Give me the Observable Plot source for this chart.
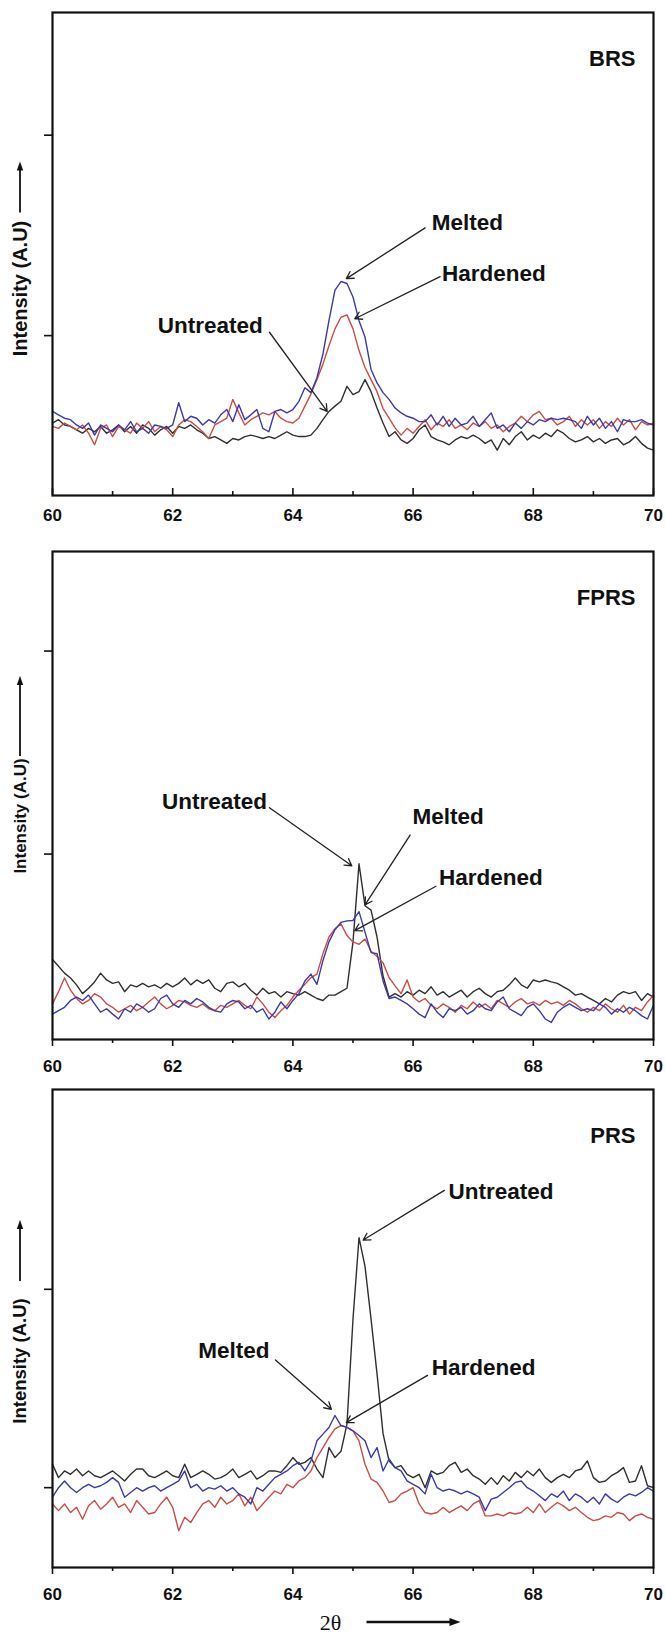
<!DOCTYPE html>
<html>
<head>
<meta charset="utf-8">
<script src="https://cdn.jsdelivr.net/npm/d3@7"></script>
<script src="https://cdn.jsdelivr.net/npm/@observablehq/plot@0.6"></script>
<style>
  body { margin: 0; background: #fff; }
  #chart { width: 665px; }
  #chart svg { display: block; }
</style>
</head>
<body>
<div id="chart"></div>
<script>
// ---------- data (2θ in degrees, intensity in arbitrary units, 0–100 of each panel) ----------
const theta = [60.0,60.1,60.2,60.3,60.4,60.5,60.6,60.7,60.8,60.9,
  61.0,61.1,61.2,61.3,61.4,61.5,61.6,61.7,61.8,61.9,
  62.0,62.1,62.2,62.3,62.4,62.5,62.6,62.7,62.8,62.9,
  63.0,63.1,63.2,63.3,63.4,63.5,63.6,63.7,63.8,63.9,
  64.0,64.1,64.2,64.3,64.4,64.5,64.6,64.7,64.8,64.9,
  65.0,65.1,65.2,65.3,65.4,65.5,65.6,65.7,65.8,65.9,
  66.0,66.1,66.2,66.3,66.4,66.5,66.6,66.7,66.8,66.9,
  67.0,67.1,67.2,67.3,67.4,67.5,67.6,67.7,67.8,67.9,
  68.0,68.1,68.2,68.3,68.4,68.5,68.6,68.7,68.8,68.9,
  69.0,69.1,69.2,69.3,69.4,69.5,69.6,69.7,69.8,69.9,
  70.0];

// BRS
const brsUntreated = [15.0,15.7,14.6,14.3,13.6,12.9,13.9,13.2,14.3,12.9,
  13.6,14.6,13.2,14.3,12.9,14.6,13.9,12.5,13.6,14.3,
  12.9,14.3,13.9,14.6,13.6,12.9,11.8,12.2,11.5,10.8,
  11.8,11.5,12.2,12.5,12.2,11.8,12.2,11.8,12.5,13.2,
  12.5,12.2,12.2,12.5,13.9,15.7,17.4,18.5,19.5,22.6,
  20.9,21.5,24.0,21.5,18.1,15.0,12.2,13.2,11.5,10.8,
  11.8,13.6,14.6,12.2,11.5,11.1,10.5,11.5,12.2,11.8,
  12.5,11.8,10.8,11.5,9.4,11.8,10.5,12.2,13.2,11.5,
  12.5,11.8,12.9,12.2,13.6,12.9,11.8,11.1,11.5,12.2,
  11.1,11.8,10.8,11.5,11.8,10.5,11.1,12.2,10.8,9.8,
  9.4];
const brsHardened = [14.3,13.9,15.0,14.3,13.6,14.6,12.9,10.5,13.9,14.6,
  12.2,14.3,13.6,12.9,15.0,13.9,15.3,13.2,14.3,13.6,
  12.2,14.6,15.7,15.3,14.3,13.2,11.8,14.6,15.3,16.0,
  19.9,17.1,14.6,15.7,16.4,17.1,16.7,17.4,16.0,15.3,
  15.0,16.0,18.5,21.0,24.0,27.2,31.0,34.5,36.9,37.4,
  34.5,30.0,26.5,24.0,21.5,18.0,16.0,14.0,12.5,13.9,
  12.9,14.3,15.7,13.6,15.0,14.3,15.7,13.9,14.6,13.6,
  15.0,14.3,15.3,13.9,14.6,13.2,14.3,15.0,16.4,15.3,
  16.7,17.4,15.7,16.0,14.6,15.3,16.4,14.3,15.7,14.6,
  15.7,13.9,15.3,14.3,16.0,14.6,15.7,13.6,15.3,14.6,
  15.0];
const brsMelted = [17.4,16.7,16.0,15.7,14.6,13.9,15.0,12.5,14.6,13.9,
  13.2,14.6,13.6,15.3,13.2,13.9,12.9,14.6,14.3,13.9,
  14.6,19.2,15.3,16.4,16.0,14.6,15.7,15.0,16.7,17.8,
  15.3,18.8,15.7,16.7,17.8,13.9,13.2,17.4,17.8,17.1,
  17.8,19.5,22.3,21.3,24.4,29.3,36.2,42.5,44.3,43.9,
  41.1,36.2,32.8,26.1,23.3,21.3,19.9,18.1,17.1,16.4,
  16.0,15.3,15.3,16.7,14.6,16.4,14.3,16.0,14.6,15.0,
  16.4,14.3,15.7,17.1,13.9,14.6,13.2,15.0,13.9,15.3,
  14.6,15.7,15.3,16.0,15.7,16.0,15.7,15.3,13.9,16.4,
  14.6,16.0,13.9,15.3,13.2,15.7,15.3,15.3,15.7,15.0,
  14.6];

// FPRS
const fprsUntreated = [16.4,15.0,13.6,12.6,11.2,9.4,10.5,11.8,13.6,12.2,
  11.5,11.8,9.8,11.2,10.8,11.5,10.8,11.2,10.5,11.5,
  10.8,11.5,12.6,11.2,12.2,11.5,12.2,10.5,9.8,11.5,
  11.8,10.8,11.5,10.1,9.1,10.5,9.4,9.8,8.7,9.8,
  9.4,9.1,9.8,9.1,8.4,8.0,9.1,9.1,9.8,10.5,
  20.0,36.0,27.4,26.5,21.0,13.0,8.7,9.4,8.7,9.8,
  9.1,10.1,9.4,10.8,9.1,9.8,8.7,9.4,10.1,8.7,
  9.8,10.5,9.4,8.7,9.8,10.1,11.2,12.6,11.2,10.5,
  12.2,11.8,12.2,11.8,11.5,10.8,10.1,9.1,9.4,8.7,
  8.0,7.3,8.4,7.7,9.1,9.8,9.4,9.8,8.0,9.4,
  8.7];
const fprsHardened = [7.3,9.8,12.6,10.1,8.4,7.3,8.0,9.4,8.7,7.3,
  6.6,5.6,6.3,7.0,5.9,6.6,7.7,8.7,7.3,6.3,
  7.0,8.0,7.7,7.0,6.6,7.3,6.3,5.9,7.0,6.6,
  7.3,8.0,7.0,6.3,8.7,7.3,5.6,4.5,5.9,7.0,
  8.7,10.1,11.3,12.7,13.4,17.6,21.0,22.7,23.7,21.3,
  20.0,19.5,20.6,18.1,17.0,15.7,12.7,11.0,9.4,12.2,
  8.7,7.7,8.4,7.0,6.3,7.3,6.6,5.6,7.0,6.3,
  7.7,6.6,7.3,6.3,8.0,7.3,6.6,7.7,8.4,7.3,
  7.7,7.0,8.0,7.3,7.7,7.0,8.0,7.3,6.3,5.6,
  6.6,5.9,7.3,6.3,5.6,7.0,5.2,6.6,5.9,7.7,
  9.1];
const fprsMelted = [5.2,5.9,6.6,8.0,8.7,8.0,9.1,7.3,5.6,6.3,
  5.2,4.2,6.3,5.6,7.3,6.6,5.6,6.3,8.4,9.1,
  7.3,6.6,8.0,7.3,8.4,7.7,6.6,5.9,5.6,7.3,
  8.0,7.7,6.3,7.0,5.6,6.3,4.2,5.6,7.7,6.3,
  8.0,9.4,12.0,13.4,11.3,16.2,20.0,22.5,24.0,24.3,
  24.4,26.2,22.0,17.8,17.6,12.0,8.4,8.7,8.0,7.3,
  6.3,5.2,4.5,7.3,5.6,4.5,6.3,5.9,6.6,5.2,
  5.9,7.3,6.3,5.9,7.7,8.7,6.3,5.6,4.9,6.6,
  7.3,5.9,4.2,3.5,5.6,6.6,7.3,6.6,5.9,6.3,
  5.9,7.3,6.6,5.2,6.3,5.6,6.6,5.9,4.9,4.2,
  7.0];

// PRS
const prsUntreated = [21.6,18.8,20.2,19.5,20.6,19.2,20.2,19.2,18.8,19.5,
  20.2,19.2,18.1,19.5,20.6,20.6,19.2,18.8,19.5,20.2,
  19.2,18.8,21.6,18.8,19.5,20.2,19.5,18.5,18.8,19.5,
  20.6,18.8,19.5,20.2,18.5,19.2,20.2,20.2,19.9,21.3,
  23.0,21.6,22.0,23.0,20.6,18.8,25.1,23.0,24.3,30.0,
  52.0,69.0,63.0,52.0,40.5,28.0,22.3,20.9,21.3,19.5,
  18.8,19.5,16.7,20.2,19.5,19.9,21.3,22.0,19.9,20.6,
  19.2,18.5,17.4,18.8,17.4,19.2,18.1,19.9,18.8,20.2,
  19.2,20.6,18.8,17.8,18.8,19.5,18.8,20.2,20.6,22.3,
  18.8,17.8,18.1,19.2,19.9,20.9,17.8,18.1,21.3,17.1,
  16.7];
const prsHardened = [13.3,11.9,13.3,11.5,12.6,10.1,12.9,14.0,12.2,13.3,
  14.7,12.6,13.3,11.5,14.0,12.6,11.2,11.5,13.3,14.7,
  12.6,7.7,10.5,9.4,11.5,13.3,14.0,12.6,14.7,13.3,
  14.0,15.4,12.9,14.7,11.9,13.3,14.7,16.0,15.4,17.4,
  16.7,18.1,18.8,20.2,23.0,25.1,27.2,29.0,29.7,29.3,
  28.6,26.5,21.6,18.5,17.8,16.0,13.6,14.0,15.4,16.0,
  16.7,13.3,11.5,11.2,11.5,12.6,11.5,12.2,12.9,11.9,
  13.3,14.0,10.8,10.8,11.2,10.8,11.5,11.2,11.5,12.6,
  11.5,13.3,11.5,12.6,13.6,12.9,11.9,12.6,11.5,10.5,
  9.8,10.1,10.8,10.5,11.5,11.2,9.8,10.8,11.2,10.5,
  10.1];
const prsMelted = [14.7,16.7,18.1,16.7,15.7,16.7,17.4,16.7,17.1,17.8,
  18.8,17.8,14.7,15.7,16.7,16.0,16.7,17.1,16.0,16.7,
  17.4,18.1,20.2,16.7,17.4,16.0,16.7,16.4,17.1,16.0,
  16.7,15.4,14.7,13.3,16.7,16.0,17.4,18.8,19.5,20.2,
  21.3,22.0,20.2,22.3,26.5,27.9,29.3,31.8,29.7,29.3,
  28.6,27.6,26.5,23.0,25.1,20.2,22.7,20.9,20.2,18.1,
  17.4,16.7,15.4,19.5,16.7,16.0,16.4,16.0,15.4,16.0,
  15.4,14.7,11.9,14.3,14.7,15.7,16.7,17.8,18.1,16.7,
  16.0,15.0,14.0,15.4,14.7,16.0,14.0,15.4,14.7,13.6,
  14.7,13.3,15.4,14.3,13.6,14.7,15.4,15.0,15.7,16.7,
  16.0];

// axis ticks
const xMajorTicks = [60, 62, 64, 66, 68, 70];
const xMinorTicks = [61, 63, 65, 67, 69];
const brsYTicks = [33.1, 74.6];
const fprsYTicks = [38.0, 79.6];
const prsYTicks = [16.7, 58.2];

// texts
const panelNames = ["BRS", "FPRS", "PRS"];
const yTitle = "Intensity (A.U)";
const xTitle = "2θ";

// annotation labels (data coordinates) and their pointer arrows
const brsNotes = [
  {label: "Melted",    x: 66.31, y: 56.4, anchor: "start", ax1: 66.20, ay1: 55.4, ax2: 64.89, ay2: 44.9},
  {label: "Hardened",  x: 66.48, y: 46.0, anchor: "start", ax1: 66.45, ay1: 45.3, ax2: 65.03, ay2: 36.6},
  {label: "Untreated", x: 63.50, y: 35.2, anchor: "end",   ax1: 63.61, ay1: 33.8, ax2: 64.57, ay2: 17.4}
];
const fprsNotes = [
  {label: "Untreated", x: 63.57, y: 48.8, anchor: "end",   ax1: 63.61, ay1: 47.5, ax2: 64.98, ay2: 35.6},
  {label: "Melted",    x: 65.99, y: 45.7, anchor: "start", ax1: 65.95, ay1: 41.9, ax2: 65.20, ay2: 27.6},
  {label: "Hardened",  x: 66.43, y: 33.1, anchor: "start", ax1: 66.38, ay1: 31.4, ax2: 65.03, ay2: 22.3}
];
const prsNotes = [
  {label: "Untreated", x: 66.59, y: 78.5, anchor: "start", ax1: 66.52, ay1: 78.9, ax2: 65.17, ay2: 68.5},
  {label: "Melted",    x: 63.61, y: 45.4, anchor: "end",   ax1: 63.71, ay1: 43.4, ax2: 64.64, ay2: 33.1},
  {label: "Hardened",  x: 66.31, y: 41.8, anchor: "start", ax1: 66.24, ay1: 40.2, ax2: 64.89, ay2: 30.3}
];

// ---------- drawing ----------
const FONT = "'Liberation Sans', Arial, Helvetica, sans-serif";
const SERIF = "'Liberation Serif', 'Times New Roman', serif";
const colors = {untreated: "#2f2f2f", hardened: "#cc4d45", melted: "#3a3aad"};

function yTitleMark(opt) {
  return (index, scales, values, dims) => {
    const cy = (dims.marginTop + dims.height - dims.marginBottom) / 2 + opt.shift;
    const cx = 20;
    const g = d3.create("svg:g");
    g.append("text")
      .attr("transform", `translate(${cx},${cy}) rotate(-90)`)
      .attr("text-anchor", "middle").attr("dy", "0.35em")
      .attr("font-family", FONT).attr("font-size", opt.size).attr("font-weight", "bold")
      .attr("fill", "#111").text(yTitle);
    const y1 = cy - opt.arrowFrom, y2 = cy - opt.arrowTo;
    g.append("line").attr("x1", cx).attr("x2", cx).attr("y1", y1).attr("y2", y2 + 7)
      .attr("stroke", "#111").attr("stroke-width", 1.8);
    g.append("path").attr("d", `M${cx},${y2} L${cx - 3.2},${y2 + 9} L${cx + 3.2},${y2 + 9}Z`).attr("fill", "#111");
    return g.node();
  };
}

function xTitleMark() {
  return (index, scales, values, dims) => {
    const mid = (dims.marginLeft + dims.width - dims.marginRight) / 2;
    const cx = mid - 22;
    const cy = dims.height - dims.marginBottom + 55;
    const g = d3.create("svg:g");
    g.append("text").attr("x", cx).attr("y", cy).attr("dy", "0.35em")
      .attr("text-anchor", "middle").attr("font-family", SERIF).attr("font-size", 22)
      .attr("fill", "#111").text(xTitle);
    const x1 = cx + 36, x2 = cx + 130;
    g.append("line").attr("x1", x1).attr("x2", x2 - 8).attr("y1", cy).attr("y2", cy)
      .attr("stroke", "#111").attr("stroke-width", 2.6);
    g.append("path").attr("d", `M${x2},${cy} L${x2 - 11},${cy - 4} L${x2 - 11},${cy + 4}Z`).attr("fill", "#111");
    return g.node();
  };
}

function panel(cfg) {
  const notesStart = cfg.notes.filter(d => d.anchor === "start");
  const notesEnd = cfg.notes.filter(d => d.anchor === "end");
  const frameH = cfg.height - cfg.mt - cfg.mb;
  const tickMarks = cfg.inwardTicks
    ? [
        Plot.axisX({ticks: xMajorTicks, tickSize: 0, tickPadding: 13, fontSize: 17, fontWeight: "bold",
                    fill: "#111", label: null, tickFormat: d => d}),
        Plot.tickX(xMajorTicks, {x: d => d, insetTop: frameH - 7, stroke: "#111", strokeWidth: 1.6}),
        Plot.tickX(xMinorTicks, {x: d => d, insetTop: frameH - 4, stroke: "#111", strokeWidth: 1.6})
      ]
    : [
        Plot.axisX({ticks: xMajorTicks, tickSize: 7, tickPadding: 13, fontSize: 17, fontWeight: "bold",
                    fill: "#111", strokeWidth: 1.6, label: null, tickFormat: d => d}),
        Plot.axisX({ticks: xMinorTicks, tickSize: 4, text: null, strokeWidth: 1.6, label: null})
      ];
  const marks = [
    ...tickMarks,
    Plot.axisY({ticks: cfg.yTicks, tickSize: 8, text: null, strokeWidth: 1.6, label: null}),
    Plot.lineY(cfg.untreated, {x: theta, stroke: colors.untreated, strokeWidth: 1.4}),
    Plot.lineY(cfg.hardened, {x: theta, stroke: colors.hardened, strokeWidth: 1.4}),
    Plot.lineY(cfg.melted, {x: theta, stroke: colors.melted, strokeWidth: 1.4}),
    Plot.frame({stroke: "#111", strokeWidth: 2.2}),
    Plot.arrow(cfg.notes, {x1: "ax1", y1: "ay1", x2: "ax2", y2: "ay2", stroke: "#222",
                           strokeWidth: 1.3, headLength: 9}),
    Plot.text(notesStart, {x: "x", y: "y", text: "label", textAnchor: "start", fontSize: 22.5,
                           fontWeight: "bold", fill: "#111"}),
    Plot.text(notesEnd, {x: "x", y: "y", text: "label", textAnchor: "end", fontSize: 22.5,
                         fontWeight: "bold", fill: "#111"}),
    Plot.text([cfg.name], {frameAnchor: "top-right", textAnchor: "end", dx: -18, dy: 38,
                           fontSize: 22, fontWeight: "bold", fill: "#111"}),
    yTitleMark(cfg.yTitle)
  ];
  if (cfg.xTitle) marks.push(xTitleMark());
  return Plot.plot({
    width: 665, height: cfg.height,
    marginTop: cfg.mt, marginBottom: cfg.mb, marginLeft: 52, marginRight: 12,
    x: {domain: [60, 70]},
    y: {domain: [0, 100]},
    style: {fontFamily: FONT, background: "#fff", overflow: "visible", color: "#111"},
    marks
  });
}

const chart = document.getElementById("chart");
chart.append(panel({
  name: panelNames[0], height: 539, mt: 12, mb: 44, inwardTicks: true,
  untreated: brsUntreated, hardened: brsHardened, melted: brsMelted,
  yTicks: brsYTicks, notes: brsNotes,
  yTitle: {shift: 35, size: 20, arrowFrom: 76, arrowTo: 127}
}));
chart.append(panel({
  name: panelNames[1], height: 538, mt: 12, mb: 38,
  untreated: fprsUntreated, hardened: fprsHardened, melted: fprsMelted,
  yTicks: fprsYTicks, notes: fprsNotes,
  yTitle: {shift: 21, size: 17, arrowFrom: 60, arrowTo: 140}
}));
chart.append(panel({
  name: panelNames[2], height: 562, mt: 12, mb: 72,
  untreated: prsUntreated, hardened: prsHardened, melted: prsMelted,
  yTicks: prsYTicks, notes: prsNotes, xTitle: true,
  yTitle: {shift: 33, size: 18.5, arrowFrom: 80, arrowTo: 141}
}));
</script>
</body>
</html>
